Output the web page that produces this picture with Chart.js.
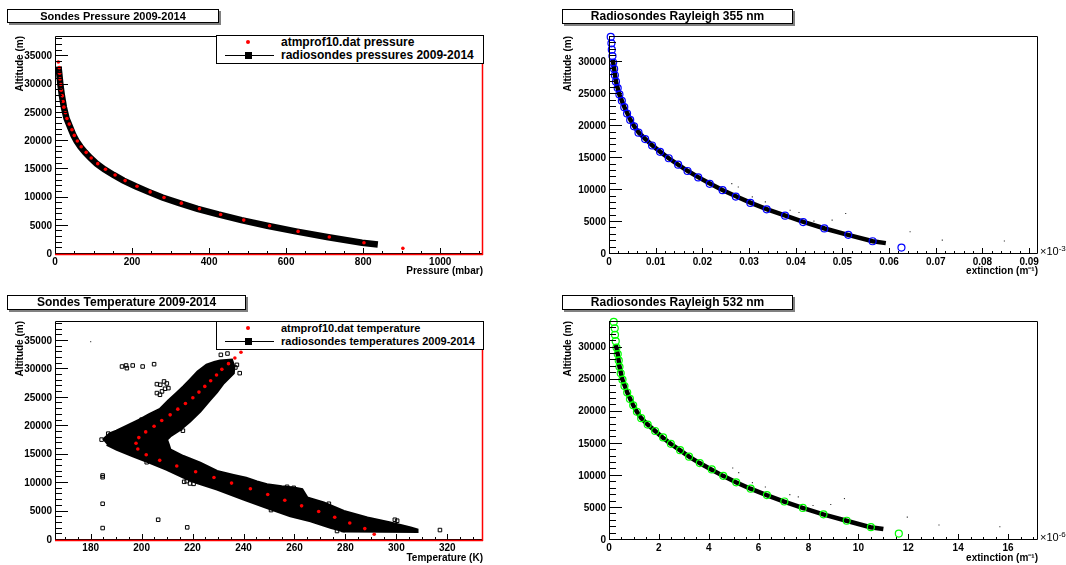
<!DOCTYPE html>
<html>
<head>
<meta charset="utf-8">
<script src="https://cdn.jsdelivr.net/npm/chart.js@4.4.1/dist/chart.umd.min.js"></script>
<style>
body{margin:0;background:#fff;}
#wrap{position:relative;width:1066px;height:565px;overflow:hidden;font-family:"Liberation Sans",Arial,Helvetica,sans-serif;color:#000;}
canvas{position:absolute;}
.title{position:absolute;box-sizing:border-box;border:1px solid #000;background:#fff;box-shadow:2px 2px 0 #808080;font-weight:bold;text-align:center;white-space:nowrap;}
.legend{position:absolute;box-sizing:border-box;border:1px solid #000;background:#fff;font-weight:bold;}
.ltxt{position:absolute;left:64px;line-height:14px;white-space:nowrap;}
.dot{position:absolute;width:4px;height:4px;border-radius:50%;background:#ff0000;}
.lline{position:absolute;height:1px;background:#000;}
.lsq{position:absolute;width:7px;height:7px;background:#000;}
.exp{position:absolute;font-size:11px;line-height:12px;white-space:nowrap;}
</style>
</head>
<body>
<div id="wrap">
<canvas id="c1" width="533" height="282" style="left:0;top:0"></canvas>
<canvas id="c2" width="533" height="282" style="left:533px;top:0"></canvas>
<canvas id="c3" width="533" height="280" style="left:0;top:285px"></canvas>
<canvas id="c4" width="533" height="280" style="left:533px;top:285px"></canvas>

<div class="title" style="left:7px;top:9px;width:212px;height:14px;font-size:11px;line-height:12px;">Sondes Pressure 2009-2014</div>
<div class="title" style="left:562px;top:9px;width:231px;height:15px;font-size:12px;line-height:13px;">Radiosondes Rayleigh 355 nm</div>
<div class="title" style="left:7px;top:295px;width:239px;height:15px;font-size:12px;line-height:13px;">Sondes Temperature 2009-2014</div>
<div class="title" style="left:562px;top:295px;width:231px;height:15px;font-size:12px;line-height:13px;">Radiosondes Rayleigh 532 nm</div>

<div class="legend" style="left:216px;top:35px;width:268px;height:29px;font-size:12px;">
  <div class="dot" style="left:29px;top:4px;"></div>
  <div class="ltxt" style="top:-1px;">atmprof10.dat pressure</div>
  <div class="lline" style="left:8px;top:19px;width:49px;"></div>
  <div class="lsq" style="left:28px;top:16px;"></div>
  <div class="ltxt" style="top:12px;">radiosondes pressures 2009-2014</div>
</div>
<div class="legend" style="left:216px;top:321px;width:268px;height:29px;font-size:11px;">
  <div class="dot" style="left:29px;top:4px;"></div>
  <div class="ltxt" style="top:-1px;">atmprof10.dat temperature</div>
  <div class="lline" style="left:8px;top:19px;width:49px;"></div>
  <div class="lsq" style="left:28px;top:16px;"></div>
  <div class="ltxt" style="top:12px;">radiosondes temperatures 2009-2014</div>
</div>

<div class="exp" style="left:1040px;top:243px;">×10<sup style="font-size:8px;vertical-align:4px;">-3</sup></div>
<div class="exp" style="left:1040px;top:529px;">×10<sup style="font-size:8px;vertical-align:4px;">-6</sup></div>
</div>

<script>
// ---------------- data ----------------
// model altitudes (m) for atmprof10.dat pressure and Rayleigh profiles
const modelAltitudes = [34000,33000,32000,31000,30000,29000,28000,27000,26000,25000,24000,23000,22000,21000,20000,19000,18000,17000,16000,15000,14000,13000,12000,11000,10000,9000,8000,7000,6000,5000,4000,3000,2000,1000];
// atmprof10.dat pressure (mbar)
const atmPressure = [8.6,11,12,13,15,16,19,21,23,27,31,37,44,50,58,68,81,94,111,131,156,182,213,247,283,328,375,430,490,557,631,712,802,903];

// radiosondes pressure band (mbar vs m)
const sondePressureAlt = [33200,32000,30000,28000,26000,24000,22000,21000,20000,19000,18000,17000,16000,15000,14000,13000,12000,11000,10000,9000,8000,7000,6000,5000,4000,3000,2000,1700];
const sondePressure    = [9,11,14,18,23,30,42,48,56,66,78,92,108,128,152,178,209,243,279,323,370,424,484,551,625,706,797,838];

// atmprof10.dat temperature (K)
const modelAltitudesT = [1000,2000,3000,4000,5000,6000,7000,8000,9000,10000,11000,12000,13000,14000,15000,16000,17000,18000,19000,20000,21000,22000,23000,24000,25000,26000,27000,28000,29000,30000,31000,32000,33000];
const atmTemperature  = [291.3,287.6,281.7,275.8,269.5,262.8,256.2,249.5,242.7,235.3,228.4,221.2,213.8,207.1,201.8,198.5,197.8,198.9,201.6,204.9,207.9,211.2,214.2,217.2,220.1,222.5,224.8,227.1,229.4,231.5,234.1,236.6,239.0];

// radiosondes temperature: outline of the dense band of measurements (K, m)
const sondeTempBandT   = [184.8,187.5,190.1,194.0,199.3,203.0,207.2,210.5,213.7,216.5,219.0,222.0,225.5,228.5,230.8,235.4,236.3,236.1,232.2,229.5,226.9,223.0,219.0,215.1,211.2,209.9,210.6,211.2,216.4,223.0,229.6,236.1,241.0,245.3,249.2,255.0,259.7,263.0,265.0,271.5,279.4,288.6,297.7,305.6,308.2,308.2,295.1,279.4,274.1,266.3,258.4,249.2,240.0,229.6,221.7,216.4,209.9,203.4,196.8,190.3,186.3];
const sondeTempBandAlt = [17600,18700,19200,20000,21150,22100,23000,24500,25830,27000,28160,29600,30790,31250,31500,31670,30500,29340,27590,26000,24660,22610,20860,19400,18230,17650,16770,15900,14720,13560,12090,11400,10900,10250,9760,9400,9180,8890,7430,6550,5080,3920,3050,2170,1800,1450,1500,1550,2170,3330,4210,5670,7130,8890,10060,11000,12390,13560,14720,15900,16770];
// isolated radiosonde temperature measurements (open squares)
const tempOutlierT   = [184.7,184.7,184.7,184.7,206.5,217.9,317.1,299.4,300.3,192.3,193.9,194.2,196.5,200.4,204.9,206.0,207.3,208.8,209.9,206.0,208.0,209.2,210.5,207.2,231.1,233.7,237.4,238.5,236.8,216.2,215.1,202.0,216.7,220.4,229.8,250.8,257.1,259.7,273.5,276.7,279.1,186.9,184.3,200.0,217.7,219.0,242.7];
const tempOutlierAlt = [11040,11340,6370,2100,3560,2220,1750,3560,3390,30500,30680,30210,30680,30500,30910,27400,27290,27870,27520,25830,26120,26590,26700,25530,32550,32780,30790,29330,30330,19220,19570,13670,10230,9870,9470,5260,9350,9170,6370,1580,1750,18700,17650,21150,10340,9940,7310];

// Rayleigh extinction model (x10^-3 m^-1 at 355 nm, x10^-6 m^-1 at 532 nm)
const rayleigh355 = [0.00037,0.00052,0.0006,0.00074,0.00089,0.0011,0.00126,0.00149,0.00186,0.00223,0.00275,0.00327,0.00387,0.00454,0.00536,0.00632,0.00774,0.00923,0.01094,0.0128,0.01481,0.01682,0.01912,0.02158,0.02433,0.02716,0.03028,0.03378,0.03772,0.04159,0.04613,0.05126,0.05647,0.06265];
const rayleigh532 = [0.19,0.23,0.24,0.27,0.30,0.35,0.39,0.42,0.47,0.54,0.62,0.73,0.84,0.97,1.12,1.29,1.55,1.85,2.17,2.48,2.85,3.21,3.64,4.12,4.58,5.10,5.68,6.33,7.03,7.77,8.60,9.53,10.50,11.62];

// radiosondes Rayleigh extinction band
const sondeExtAlt = [30500,29000,27000,25000,23000,21000,20000,19000,18000,17000,16000,15000,14000,13000,12000,11000,10000,9000,8000,7000,6000,5000,4000,3000,2000,1700];
const sonde355    = [0.0008,0.0011,0.0015,0.0022,0.0033,0.0046,0.0054,0.0064,0.0078,0.0093,0.0110,0.0128,0.0148,0.0169,0.0192,0.0217,0.0244,0.0273,0.0304,0.0339,0.0378,0.0418,0.0462,0.0512,0.0565,0.0593];
const sonde532    = [0.27,0.35,0.42,0.54,0.73,0.97,1.12,1.29,1.55,1.85,2.15,2.47,2.84,3.21,3.63,4.10,4.57,5.09,5.67,6.32,7.02,7.76,8.59,9.52,10.48,11.0];
// scattered single radiosonde extinction values
const stray355Ext = [0.0263,0.0277,0.0307,0.0335,0.0388,0.0407,0.0439,0.0478,0.0507,0.0645,0.0714,0.0847];
const stray355Alt = [11020,10500,8940,8160,6860,6500,5150,5300,6340,3480,2180,2030];
const stray532Ext = [4.96,5.20,5.75,6.27,7.25,7.59,8.18,8.89,9.44,11.96,13.23,15.67];
const stray532Alt = [11220,10500,8940,8270,7080,6720,5380,5530,6460,3570,2330,2070];

// tick values and labels
const altitudeTicks = [0,5000,10000,15000,20000,25000,30000,35000];
const altitudeLabels = ['0','5000','10000','15000','20000','25000','30000','35000'];
const altitudeTicksR = [0,5000,10000,15000,20000,25000,30000];
const altitudeLabelsR = ['0','5000','10000','15000','20000','25000','30000'];
const pressureTicks = [0,200,400,600,800,1000];
const pressureLabels = ['0','200','400','600','800','1000'];
const temperatureTicks = [180,200,220,240,260,280,300,320];
const temperatureLabels = ['180','200','220','240','260','280','300','320'];
const ext355Ticks = [0,0.01,0.02,0.03,0.04,0.05,0.06,0.07,0.08,0.09];
const ext355Labels = ['0','0.01','0.02','0.03','0.04','0.05','0.06','0.07','0.08','0.09'];
const ext532Ticks = [0,2,4,6,8,10,12,14,16];
const ext532Labels = ['0','2','4','6','8','10','12','14','16'];

// ---------------- drawing ----------------
Chart.defaults.font.family = "'Liberation Sans', Arial, Helvetica, sans-serif";
Chart.defaults.color = '#000';

const xy = (xs, ys) => xs.map((v, i) => ({x: v, y: ys[i]}));

const rootAxes = {
  id: 'rootAxes',
  afterDatasetsDraw(chart, args, o) {
    const {ctx, chartArea: a} = chart;
    const x = chart.scales.x, y = chart.scales.y;
    const L = Math.round(a.left), R = Math.round(a.right), T = Math.round(a.top), B = Math.round(a.bottom);
    ctx.save();
    ctx.lineWidth = 1;
    ctx.strokeStyle = '#000';
    ctx.beginPath();
    const xs = v => Math.round(x.getPixelForValue(v)) + 0.5;
    const ys = v => Math.round(y.getPixelForValue(v)) - 0.5;
    for (let k = Math.ceil(x.min / o.xMinor - 1e-6); k * o.xMinor <= x.max + 1e-9; k++) {
      const p = xs(k * o.xMinor); ctx.moveTo(p, B); ctx.lineTo(p, B - o.xMinorLen);
    }
    x.ticks.forEach(t => { const p = xs(t.value); ctx.moveTo(p, B); ctx.lineTo(p, B - o.xMajorLen); });
    for (let k = Math.ceil(y.min / o.yMinor - 1e-6); k * o.yMinor <= y.max + 1e-9; k++) {
      const p = ys(k * o.yMinor); ctx.moveTo(L, p); ctx.lineTo(L + o.yMinorLen, p);
    }
    y.ticks.forEach(t => { const p = ys(t.value); ctx.moveTo(L, p); ctx.lineTo(L + o.yMajorLen, p); });
    ctx.stroke();
    // frame
    ctx.beginPath();
    ctx.moveTo(L + 0.5, B); ctx.lineTo(L + 0.5, T + 0.5); ctx.lineTo(R - 0.5, T + 0.5);
    ctx.lineTo(R - 0.5, B - 0.5); ctx.lineTo(L, B - 0.5);
    ctx.stroke();
    if (o.red) {
      ctx.strokeStyle = '#ff0000';
      ctx.lineWidth = 1.5;
      ctx.beginPath();
      ctx.moveTo(L, B + 0.5); ctx.lineTo(R, B + 0.5);
      ctx.moveTo(R - 0.5, T + 1); ctx.lineTo(R - 0.5, B + 1);
      ctx.stroke();
    }
    ctx.restore();
  }
};

function axis(o) {
  return {
    type: 'linear', min: o.min, max: o.max, bounds: 'data',
    grid: {display: false, drawTicks: false},
    border: {display: false},
    afterBuildTicks: s => { s.ticks = o.ticks.map(v => ({value: v})); },
    afterFit: s => { if (o.horizontal) s.height = o.size; else s.width = o.size; },
    ticks: {autoSkip: false, maxRotation: 0, minRotation: 0, padding: o.pad, color: '#000',
            font: {size: 10, weight: 'bold'}, callback: (v, i) => o.labels[i]},
    title: {display: true, text: o.title, align: 'end', color: '#000',
            font: {size: 10, weight: 'bold'}, padding: o.titlePad}
  };
}

function make(id, datasets, xo, yo, pad, axesOpts) {
  return new Chart(document.getElementById(id), {
    type: 'scatter',
    data: {datasets},
    options: {
      responsive: false, animation: false, devicePixelRatio: 1, events: [],
      layout: {padding: pad},
      plugins: {legend: {display: false}, tooltip: {enabled: false}, rootAxes: axesOpts},
      scales: {x: axis(Object.assign({horizontal: true}, xo)), y: axis(yo)}
    },
    plugins: [rootAxes]
  });
}

// Panel 1: pressure
make('c1', [
  {data: xy(atmPressure, modelAltitudes), pointStyle: 'circle', pointRadius: 1.8, backgroundColor: '#ff0000', borderWidth: 0, clip: false},
  {data: xy(sondePressure, sondePressureAlt), showLine: true, borderColor: '#000', borderWidth: 6.5, pointRadius: 0, borderCapStyle: 'butt'}
],
  {min: 0, max: 1111, ticks: pressureTicks, labels: pressureLabels, title: 'Pressure (mbar)', size: 28, pad: 2, titlePad: {top: 0, bottom: 5}},
  {min: 0, max: 38600, ticks: altitudeTicks, labels: altitudeLabels, title: 'Altitude (m)', size: 55, pad: 3, titlePad: {top: 14, bottom: 0}},
  {top: 36, right: 50, left: 0, bottom: 0},
  {xMinor: 50, yMinor: 1000, xMajorLen: 6, xMinorLen: 3, yMajorLen: 13, yMinorLen: 7, red: true});

// Panel 2: Rayleigh 355
make('c2', [
  {data: xy(rayleigh355, modelAltitudes), pointStyle: 'circle', pointRadius: 3.5, borderColor: '#0000ff', borderWidth: 1.2, backgroundColor: 'rgba(0,0,0,0)', clip: false},
  {data: xy(stray355Ext, stray355Alt), pointStyle: 'rect', pointRadius: 0.8, backgroundColor: '#333', borderWidth: 0},
  {data: xy(sonde355, sondeExtAlt), showLine: true, borderColor: '#000', borderWidth: 4.5, pointRadius: 0}
],
  {min: 0, max: 0.0919, ticks: ext355Ticks, labels: ext355Labels, title: 'extinction (m⁻¹)', size: 28, pad: 2, titlePad: {top: 0, bottom: 5}},
  {min: 0, max: 34150, ticks: altitudeTicksR, labels: altitudeLabelsR, title: 'Altitude (m)', size: 76, pad: 3, titlePad: {top: 29, bottom: 0}},
  {top: 36, right: 28, left: 0, bottom: 0},
  {xMinor: 0.002, yMinor: 1000, xMajorLen: 6, xMinorLen: 3, yMajorLen: 13, yMinorLen: 7, red: false});

// Panel 3: temperature
make('c3', [
  {data: xy(atmTemperature, modelAltitudesT), pointStyle: 'circle', pointRadius: 1.8, backgroundColor: '#ff0000', borderWidth: 0, clip: false},
  {data: xy(tempOutlierT, tempOutlierAlt), pointStyle: 'rect', pointRadius: 2.5, borderColor: '#000', borderWidth: 1, backgroundColor: 'rgba(0,0,0,0)'},
  {data: [{x: 180, y: 34880}], pointStyle: 'rect', pointRadius: 0.8, backgroundColor: '#555', borderWidth: 0},
  {data: xy(sondeTempBandT, sondeTempBandAlt), showLine: true, fill: 'shape', backgroundColor: '#000', borderColor: '#000', borderWidth: 2.5, pointRadius: 0}
],
  {min: 166, max: 334, ticks: temperatureTicks, labels: temperatureLabels, title: 'Temperature (K)', size: 25, pad: 2, titlePad: {top: 0, bottom: 1}},
  {min: 0, max: 38500, ticks: altitudeTicks, labels: altitudeLabels, title: 'Altitude (m)', size: 55, pad: 3, titlePad: {top: 14, bottom: 0}},
  {top: 36, right: 50, left: 0, bottom: 0},
  {xMinor: 5, yMinor: 1000, xMajorLen: 6, xMinorLen: 3, yMajorLen: 13, yMinorLen: 7, red: true});

// Panel 4: Rayleigh 532
make('c4', [
  {data: xy(rayleigh532, modelAltitudes), pointStyle: 'circle', pointRadius: 3.5, borderColor: '#00ff00', borderWidth: 1.2, backgroundColor: 'rgba(0,0,0,0)', clip: false},
  {data: xy(stray532Ext, stray532Alt), pointStyle: 'rect', pointRadius: 0.8, backgroundColor: '#333', borderWidth: 0},
  {data: xy(sonde532, sondeExtAlt), showLine: true, borderColor: '#000', borderWidth: 4.5, pointRadius: 0}
],
  {min: 0, max: 17.2, ticks: ext532Ticks, labels: ext532Labels, title: 'extinction (m⁻¹)', size: 25, pad: 2, titlePad: {top: 0, bottom: 1}},
  {min: 0, max: 34150, ticks: altitudeTicksR, labels: altitudeLabelsR, title: 'Altitude (m)', size: 76, pad: 3, titlePad: {top: 29, bottom: 0}},
  {top: 36, right: 28, left: 0, bottom: 0},
  {xMinor: 0.5, yMinor: 1000, xMajorLen: 6, xMinorLen: 3, yMajorLen: 13, yMinorLen: 7, red: false});
</script>
</body>
</html>
